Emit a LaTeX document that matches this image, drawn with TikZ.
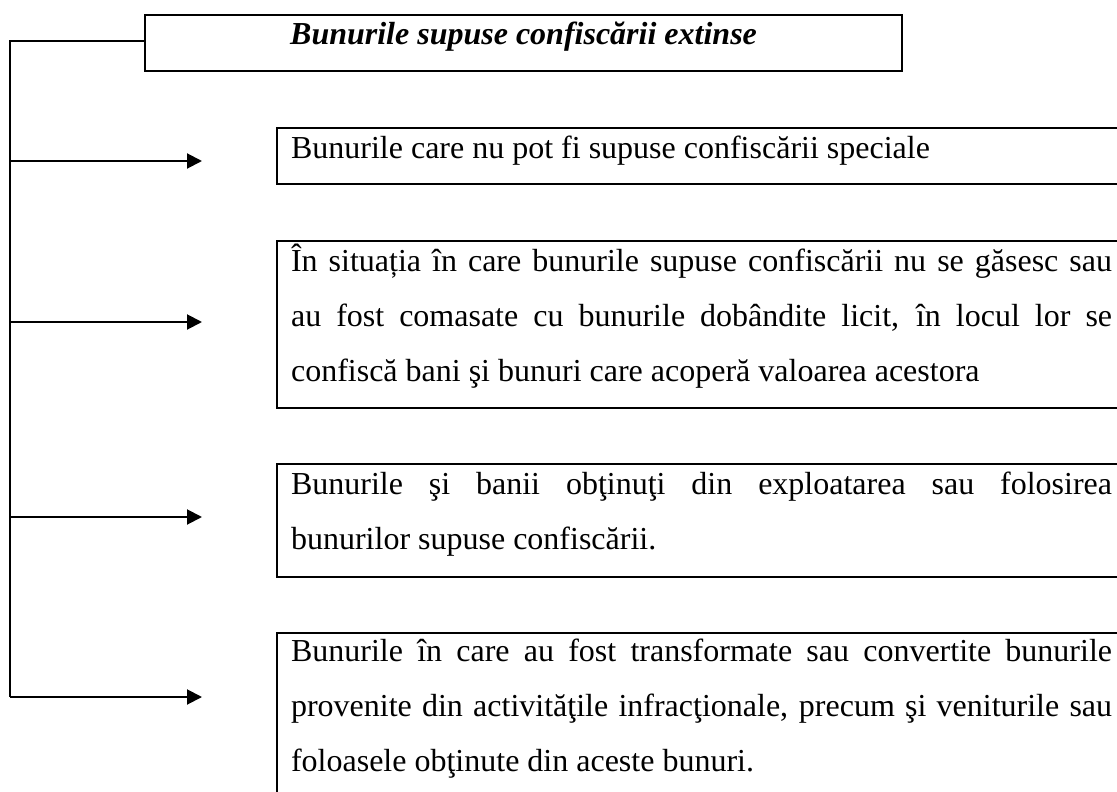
\documentclass[tikz,border=0pt]{standalone}
\usepackage{fontspec}
\setmainfont{Liberation Serif}
\usetikzlibrary{arrows.meta}
\hyphenpenalty=10000
\exhyphenpenalty=10000
\begin{document}
\begin{tikzpicture}[x=1pt,y=-1pt,
  box/.style={draw, line width=2.1pt, anchor=north west, inner xsep=14pt, inner ysep=0pt,
    text width=821pt, align=justify, text height=30pt,
    font=\fontsize{32}{55}\selectfont},
  titlebox/.style={draw, line width=2.1pt, anchor=north west, inner sep=0pt,
    minimum width=757pt, text height=29pt, text depth=27pt,
    font=\fontsize{32}{40}\selectfont\bfseries\itshape},
  link/.style={line width=2pt},
  arr/.style={link, -{Triangle[length=15pt,width=15pt]}}]
\useasboundingbox (0,0) rectangle (1117,792);
\clip (0,0) rectangle (1117,792);

\node[titlebox] (title) at (144,14) {Bunurile supuse confiscării extinse};

\node[box, text depth=26pt] (b1) at (276,127)
  {Bunurile care nu pot fi supuse confiscării speciale};
\node[box, text depth=137pt] (b2) at (276,240)
  {În situația în care bunurile supuse confiscării nu se găsesc sau\linebreak
   au fost comasate cu bunurile dobândite licit, în locul lor se\linebreak
   confiscă bani şi bunuri care acoperă valoarea acestora};
\node[box, text depth=83pt] (b3) at (276,463)
  {Bunurile şi banii obţinuţi din exploatarea sau folosirea\linebreak
   bunurilor supuse confiscării.};
\node[box, text height=28pt, text depth=142pt] (b4) at (276,632)
  {Bunurile în care au fost transformate sau convertite bunurile\linebreak
   provenite din activităţile infracţionale, precum şi veniturile sau\linebreak
   foloasele obţinute din aceste bunuri.};

\coordinate (s0) at (10,41);
\coordinate (s1) at (10,161);
\coordinate (s2) at (10,322);
\coordinate (s3) at (10,517);
\coordinate (s4) at (10,697);
\coordinate (a1) at (202,161);
\coordinate (a2) at (202,322);
\coordinate (a3) at (202,517);
\coordinate (a4) at (202,697);

\draw[link] (title.west |- s0) -- (s0) -- (s4);
\draw[arr] (s1) -- (a1);
\draw[arr] (s2) -- (a2);
\draw[arr] (s3) -- (a3);
\draw[arr] (s4) -- (a4);
\end{tikzpicture}
\end{document}
